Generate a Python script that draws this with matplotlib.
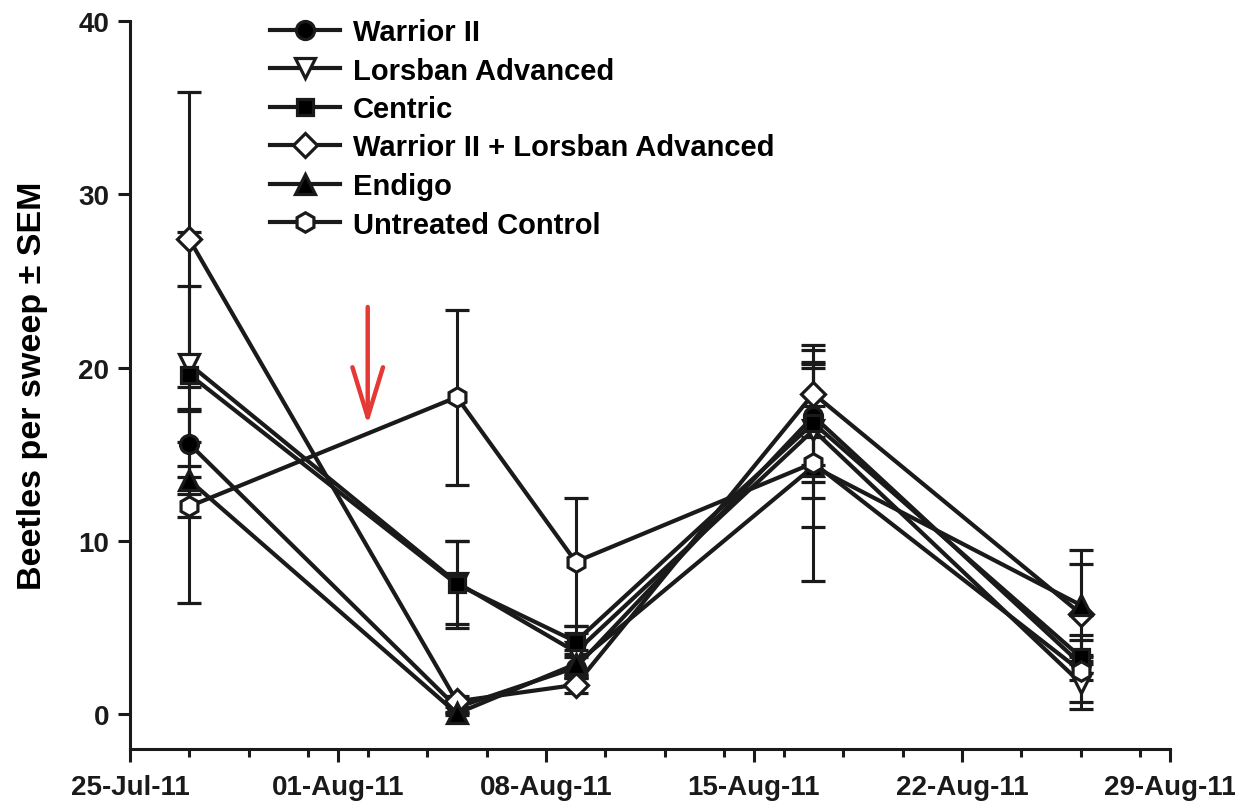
import matplotlib
matplotlib.use("Agg")
import matplotlib.pyplot as plt
import matplotlib.dates as mdates
from matplotlib.ticker import FixedLocator
from matplotlib.lines import Line2D
from datetime import datetime, timedelta

plt.rcParams['font.family'] = ['Liberation Sans', 'DejaVu Sans']
plt.rcParams['font.weight'] = 'bold'

# sampling dates
dates = [datetime(2011, 7, 27), datetime(2011, 8, 5), datetime(2011, 8, 9),
         datetime(2011, 8, 17), datetime(2011, 8, 26)]
spray_date = datetime(2011, 8, 2)

# mean beetles per sweep and SEM for each treatment
warrior = [15.6, 0.4, 2.7, 17.2, 2.9]
warrior_sem = [1.9, 0.3, 0.6, 2.8, 0.5]
lorsban = [20.2, 7.6, 3.6, 16.4, 1.8]
lorsban_sem = [4.5, 2.4, 1.5, 3.9, 1.5]
centric = [19.6, 7.5, 4.2, 16.8, 3.3]
centric_sem = [8.2, 2.5, 0.5, 3.4, 1.3]
combo = [27.4, 0.75, 1.7, 18.5, 5.8]
combo_sem = [8.5, 0.3, 0.45, 2.5, 2.9]
endigo = [13.5, 0.05, 2.9, 14.3, 6.3]
endigo_sem = [0.8, 0.1, 0.6, 3.5, 3.2]
control = [12.0, 18.3, 8.8, 14.5, 2.5]
control_sem = [5.6, 5.05, 3.7, 6.8, 1.8]

labels = ['Warrior II', 'Lorsban Advanced', 'Centric',
          'Warrior II + Lorsban Advanced', 'Endigo', 'Untreated Control']

series = [
    (warrior, warrior_sem, 'o', 'k', 13),
    (lorsban, lorsban_sem, 'v', 'white', 14),
    (centric, centric_sem, 's', 'k', 12),
    (combo, combo_sem, 'D', 'white', 12),
    (endigo, endigo_sem, '^', 'k', 14),
    (control, control_sem, 'h', 'white', 14),
]
ink = '#1a1a1a'

fig = plt.figure(figsize=(12.35, 8.12), dpi=100)
ax = fig.add_axes([130/1235, 1-750/812, 1040/1235, 728/812])

handles = []
for (vals, sem, mk, face, ms), lab in zip(series, labels):
    ax.errorbar(dates, vals, yerr=sem, color=ink, lw=3,
                marker=mk, ms=ms, mfc=face, mec=ink, mew=2.3,
                elinewidth=2.2, capsize=8.5, capthick=2.4)
    handles.append(Line2D([], [], color=ink, lw=3, marker=mk, ms=ms,
                          mfc=face, mec=ink, mew=2.3, label=lab))

# spray application
ax.annotate('', xy=(spray_date, 16.7), xytext=(spray_date, 23.5),
            arrowprops=dict(arrowstyle='->, head_length=1.8, head_width=0.55',
                            color='#e53935', lw=3.2, mutation_scale=20,
                            shrinkA=0, shrinkB=0))

ax.set_xlim(datetime(2011, 7, 25), datetime(2011, 8, 29))
ax.set_ylim(-2, 40)

start = datetime(2011, 7, 25)
major = [start + timedelta(days=7*i) for i in range(6)]
minor = [start + timedelta(days=2*i) for i in range(18)]
ax.xaxis.set_major_locator(FixedLocator(mdates.date2num(major)))
ax.xaxis.set_minor_locator(FixedLocator(mdates.date2num(minor)))
ax.xaxis.set_major_formatter(mdates.DateFormatter('%d-%b-%y'))
ax.set_yticks([0, 10, 20, 30, 40])

for s in ['top', 'right']:
    ax.spines[s].set_visible(False)
for s in ['left', 'bottom']:
    ax.spines[s].set_linewidth(2.2)
    ax.spines[s].set_color(ink)

ax.tick_params(axis='both', which='major', direction='out', length=9,
               width=2.2, colors=ink, labelsize=20)
ax.tick_params(axis='x', which='minor', direction='out', length=6, width=2.2,
               colors=ink)
ax.tick_params(axis='x', which='major', pad=9)
ax.tick_params(axis='y', which='major', pad=6)
for t in ax.get_xticklabels() + ax.get_yticklabels():
    t.set_fontweight('bold')

ax.set_ylabel('Beetles per sweep ± SEM', fontsize=24.5, fontweight='bold',
              labelpad=22)

leg = ax.legend(handles=handles, loc='upper left',
                bbox_to_anchor=(270/1235, 1-19/812),
                bbox_transform=fig.transFigure, frameon=False,
                fontsize=21, handlelength=2.4, handletextpad=0.45,
                labelspacing=0.36, borderpad=0, borderaxespad=0)
for t in leg.get_texts():
    t.set_fontweight('bold')

fig.savefig('out.png', dpi=100)
